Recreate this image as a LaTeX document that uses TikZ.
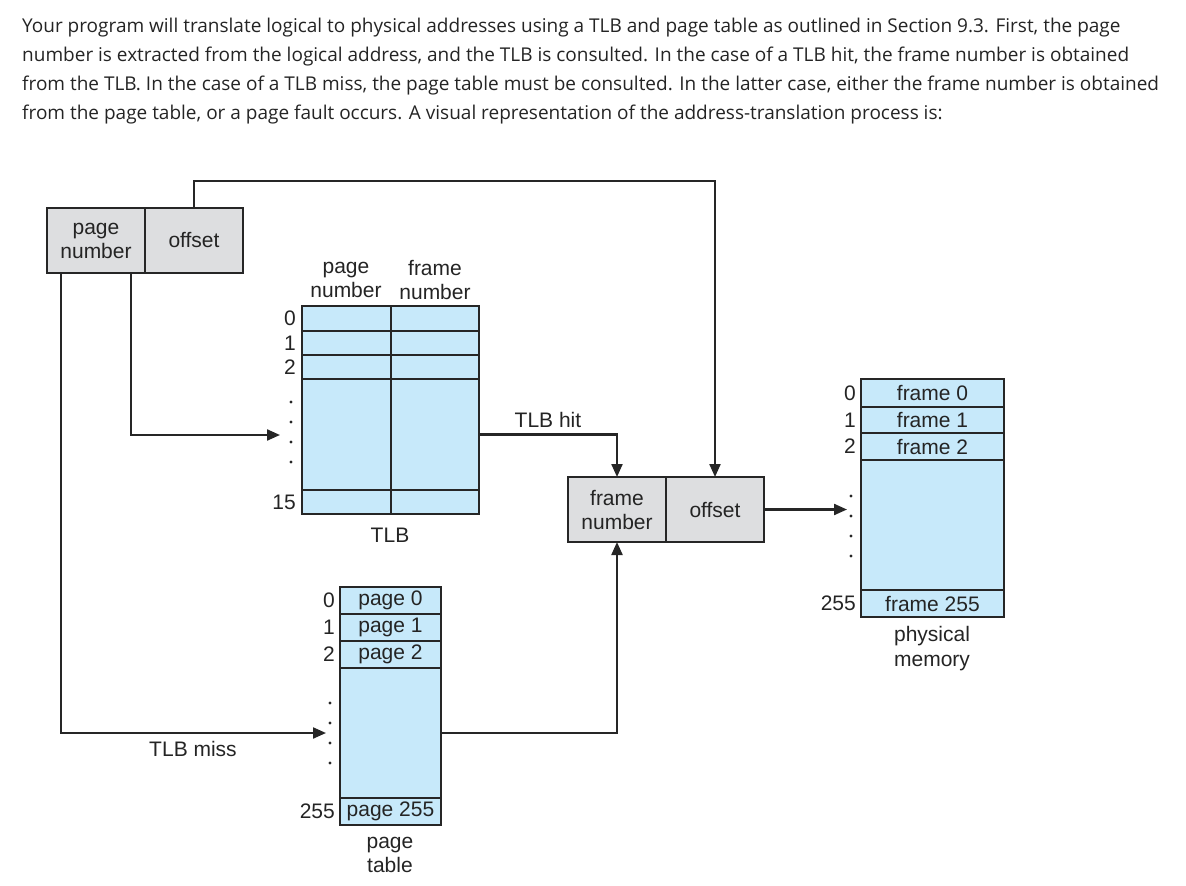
\documentclass[tikz,border=0pt]{standalone}
\usepackage{fontspec}
\setmainfont{Liberation Sans}
\newfontfamily\parafont{Open Sans}
\usetikzlibrary{arrows.meta}
\definecolor{cellblue}{RGB}{199,233,250}
\definecolor{cellgray}{RGB}{221,222,224}
\definecolor{linec}{RGB}{38,38,38}
\definecolor{textc}{RGB}{36,36,36}
\newcommand\mycell[7]{\node[#1, minimum width={(#4)-(#2)}, minimum height={(#5)-(#3)}] (#6) at ({((#2)+(#4))/2},{((#3)+(#5))/2}) {#7};}
\begin{document}
\begin{tikzpicture}[x=1pt,y=-1pt,
  cellbase/.style={draw=linec, line width=1.2pt, inner sep=0pt, outer sep=0pt, align=center, text=textc, font=\fontsize{21}{24}\selectfont},
  blue/.style={cellbase, fill=cellblue},
  gray/.style={cellbase, fill=cellgray},
  lbl/.style={inner sep=0pt, align=center, text=textc, font=\fontsize{21}{24.5}\selectfont},
  idx/.style={lbl, anchor=east},
  para/.style={inner sep=0pt, anchor=base west, text=textc, font=\parafont\fontsize{19}{22}\selectfont},
  conn/.style={draw=linec, line width=2.2pt},
  arr/.style={conn, -{Triangle[length=13pt,width=11pt]}},
  dot/.style={fill=linec}]
\useasboundingbox (0,0) rectangle (1186,886);

% paragraph
\node[para] (p1) at (22,32.3) {Your program will translate logical to physical addresses using a TLB and page table as outlined in Section 9.3. First, the page};
\node[para] (p2) at (22,61.3) {number is extracted from the logical address, and the TLB is consulted. In the case of a TLB hit, the frame number is obtained};
\node[para] (p3) at (22,90.3) {from the TLB. In the case of a TLB miss, the page table must be consulted. In the latter case, either the frame number is obtained};
\node[para] (p4) at (22,119.3) {from the page table, or a page fault occurs. A visual representation of the address-translation process is:};

% logical address
\mycell{gray}{47}{208}{145}{273}{lpn}{page\\number}
\mycell{gray}{145}{208}{243}{273}{loff}{offset}

% TLB
\node[lbl] (hpn) at (346,280) {page\\number};
\node[lbl] (hfn) at (435,280) {frame\\number};
\foreach \r/\ya/\yb in {0/306/331, 1/331/355, 2/355/379, d/379/490, 15/490/514} {
  \mycell{blue}{302}{\ya}{391}{\yb}{tp\r}{}
  \mycell{blue}{391}{\ya}{479}{\yb}{tf\r}{}
}
\node[idx] (ti0) at (296,318.5) {0};
\node[idx] (ti1) at (296,343) {1};
\node[idx] (ti2) at (296,367) {2};
\node[idx] (ti15) at (296,502) {15};
\foreach \y in {402,422,442,462} \fill[dot] (291,\y) circle (1.7pt);
\node[lbl] (tlbl) at (390,535) {TLB};

% page table
\foreach \r/\ya/\yb/\t in {0/587/614/page 0, 1/614/641/page 1, 2/641/668/page 2, d/668/798/, 255/798/825/page 255} {
  \mycell{blue}{340}{\ya}{441}{\yb}{pt\r}{\t}
}
\node[idx] (pi0) at (335,600.5) {0};
\node[idx] (pi1) at (335,627.5) {1};
\node[idx] (pi2) at (335,654.5) {2};
\node[idx] (pi255) at (335,811.5) {255};
\foreach \y in {703,723,743,763} \fill[dot] (330,\y) circle (1.7pt);
\node[lbl] (ptlbl) at (390,855) {page\\table};

% physical address
\mycell{gray}{568}{477}{666}{542}{pfn}{frame\\number}
\mycell{gray}{666}{477}{764}{542}{poff}{offset}

% physical memory
\foreach \r/\ya/\yb/\t in {0/379/407/frame 0, 1/407/433/frame 1, 2/433/460/frame 2, d/460/590/, 255/590/617/frame 255} {
  \mycell{blue}{861}{\ya}{1004}{\yb}{pm\r}{\t}
}
\node[idx] (mi0) at (856,393) {0};
\node[idx] (mi1) at (856,420) {1};
\node[idx] (mi2) at (856,446.5) {2};
\node[idx] (mi255) at (856,603.5) {255};
\foreach \y in {496,516,536,556} \fill[dot] (851,\y) circle (1.7pt);
\node[lbl] (pmlbl) at (932,648.5) {physical\\memory};

% labels
\node[lbl] (hit) at (548,420) {TLB hit};
\node[lbl] (miss) at (193,749) {TLB miss};

% connectors
\coordinate (tlbin) at (280,435);
\coordinate (ptin) at (326,733);
\coordinate (memin) at (847,509.5);
\draw[arr] (loff.north) -- ++(0,-27) -| (poff.north);
\draw[arr] ([xshift=35pt]lpn.south) |- (tlbin);
\draw[arr] ([xshift=-35pt]lpn.south) |- (ptin);
\draw[arr] (tfd.east) -| (pfn.north);
\draw[arr] (ptd.east) -| (pfn.south);
\draw[arr] (poff.east) -- (memin);
\end{tikzpicture}
\end{document}
